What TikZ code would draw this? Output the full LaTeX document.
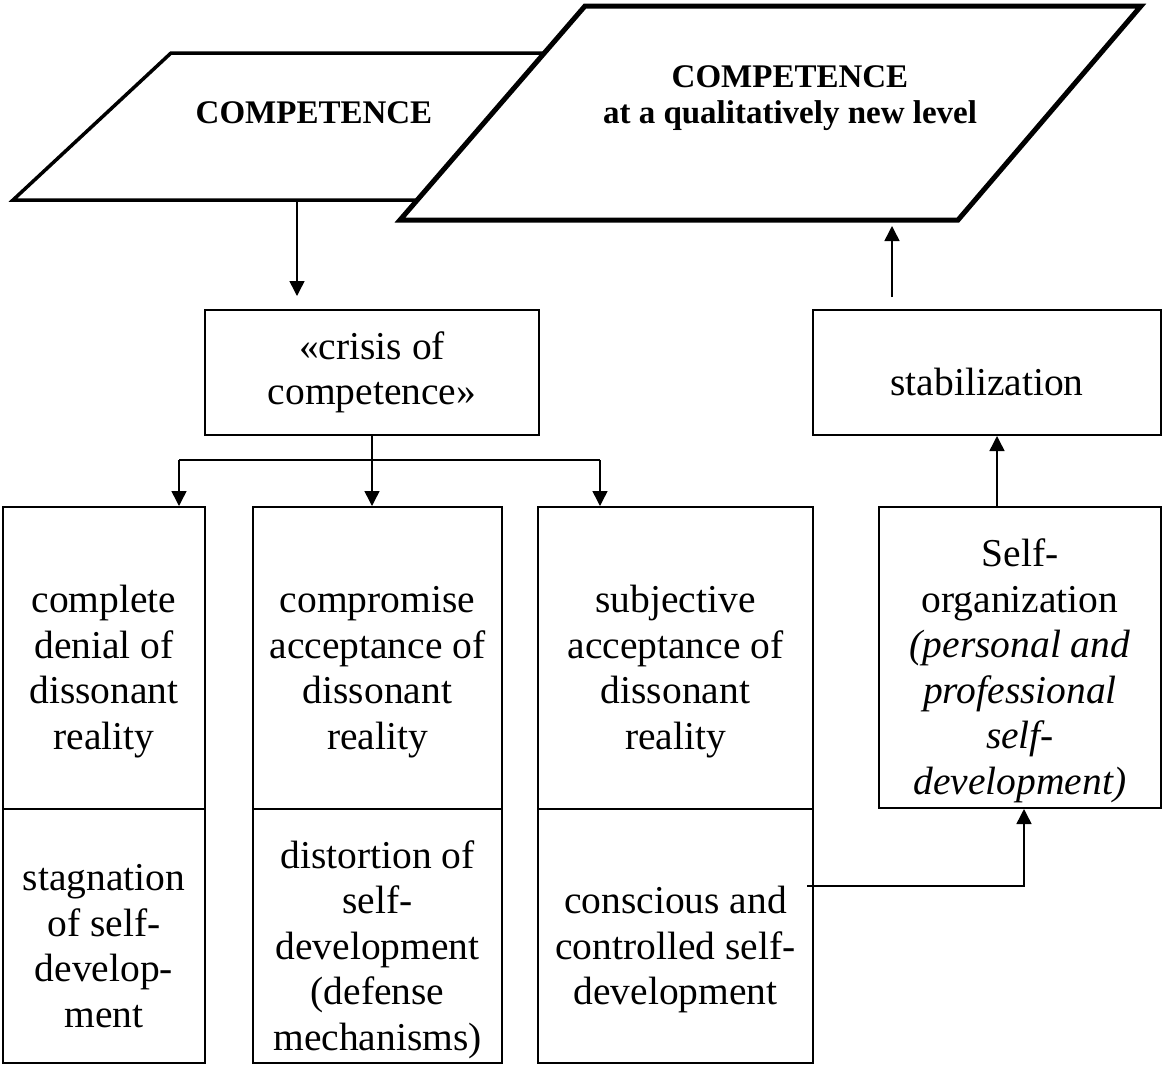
\documentclass[tikz,border=0pt]{standalone}
\usepackage{fontspec}
\setmainfont{Liberation Serif}
\usetikzlibrary{arrows.meta,positioning}
\newcommand{\bodysize}{\fontsize{39.5}{45.5}\selectfont}
\newcommand{\headsize}{\fontsize{33}{36}\selectfont\bfseries}
\newcommand{\upgap}{\rule{0pt}{56pt}}
\newcommand{\downgap}{\rule[-10pt]{0pt}{10pt}}

\begin{document}
\begin{tikzpicture}[x=1pt,y=-1pt,
   cell/.style={draw,line width=2pt,align=center,font=\bodysize,inner sep=0pt},
   arr/.style={line width=1.5pt,-{Triangle[length=15pt,width=15pt]}}]
   \useasboundingbox (0,0) rectangle (1163,1066);
   % the two levels of competence, the new one lies on top
   \draw[line width=3.5pt,fill=white] (13,200) -- (171,53) -- (620,53) -- (462,200) -- cycle;
   \node[font=\headsize] (comp) at (314,113) {COMPETENCE};
   \draw[line width=5pt,fill=white] (400,220) -- (585,6) -- (1141,6) -- (958,220) -- cycle;
   \node[font=\headsize,align=center] (newcomp) at (790,98) {COMPETENCE\\at a qualitatively new level};
   \node[cell,minimum width=334pt,minimum height=125pt] (crisis) at (372,372.5) {«crisis of\\competence»};
   \node[cell,minimum width=348pt,minimum height=125pt] (stab) at (987,372.5) {\upgap stabilization\downgap};
   \foreach \x/\w/\upname/\lowname/\upper/\lower in {
      104/202/deny/stag/{complete\\denial of\\dissonant\\reality}/{stagnation\\of self-\\develop-\\ment},
      377.5/249/compro/distort/{compromise\\acceptance of\\dissonant\\reality}/{distortion of\\self-\\development\\(defense\\mechanisms)},
      675.5/275/subj/consc/{subjective\\acceptance of\\dissonant\\reality}/{conscious and\\controlled self-\\development}}
   {
      \node[cell,minimum width=\w pt,minimum height=302pt] (\upname) at (\x,658) {\upgap\upper\downgap};
      \node[cell,minimum width=\w pt,minimum height=254pt] (\lowname) at (\x,936) {\upgap\lower\downgap};
   }
   \node[cell,minimum width=282pt,minimum height=301pt] (selforg) at (1020,657.5) {\upgap Self-\\organization\\\textit{(personal and}\\\textit{professional}\\\textit{self-}\\\textit{development)}\downgap};
   % connectors
   \coordinate (compout) at (297,200);
   \draw[arr,shorten >=13pt] (compout) -- (compout |- crisis.north);
   \draw[arr] (crisis.south) -- (crisis.south |- compro.north);
   \coordinate (forkl) at (179,460);
   \coordinate (forkr) at (600,460);
   \draw[line width=1.5pt] (forkl) -- (forkr);
   \draw[arr] (forkl) -- (forkl |- deny.north);
   \draw[arr] (forkr) -- (forkr |- subj.north);
   \coordinate (conscout) at (807,886);
   \draw[arr] (conscout) -| ([xshift=4pt]selforg.south);
   \draw[arr] ([xshift=-23pt]selforg.north) -- ([xshift=-23pt]selforg.north |- stab.south);
   \coordinate (newin) at (892,226);
   \draw[arr] ([xshift=-95pt,yshift=12pt]stab.north) -- (newin);
\end{tikzpicture}
\end{document}
